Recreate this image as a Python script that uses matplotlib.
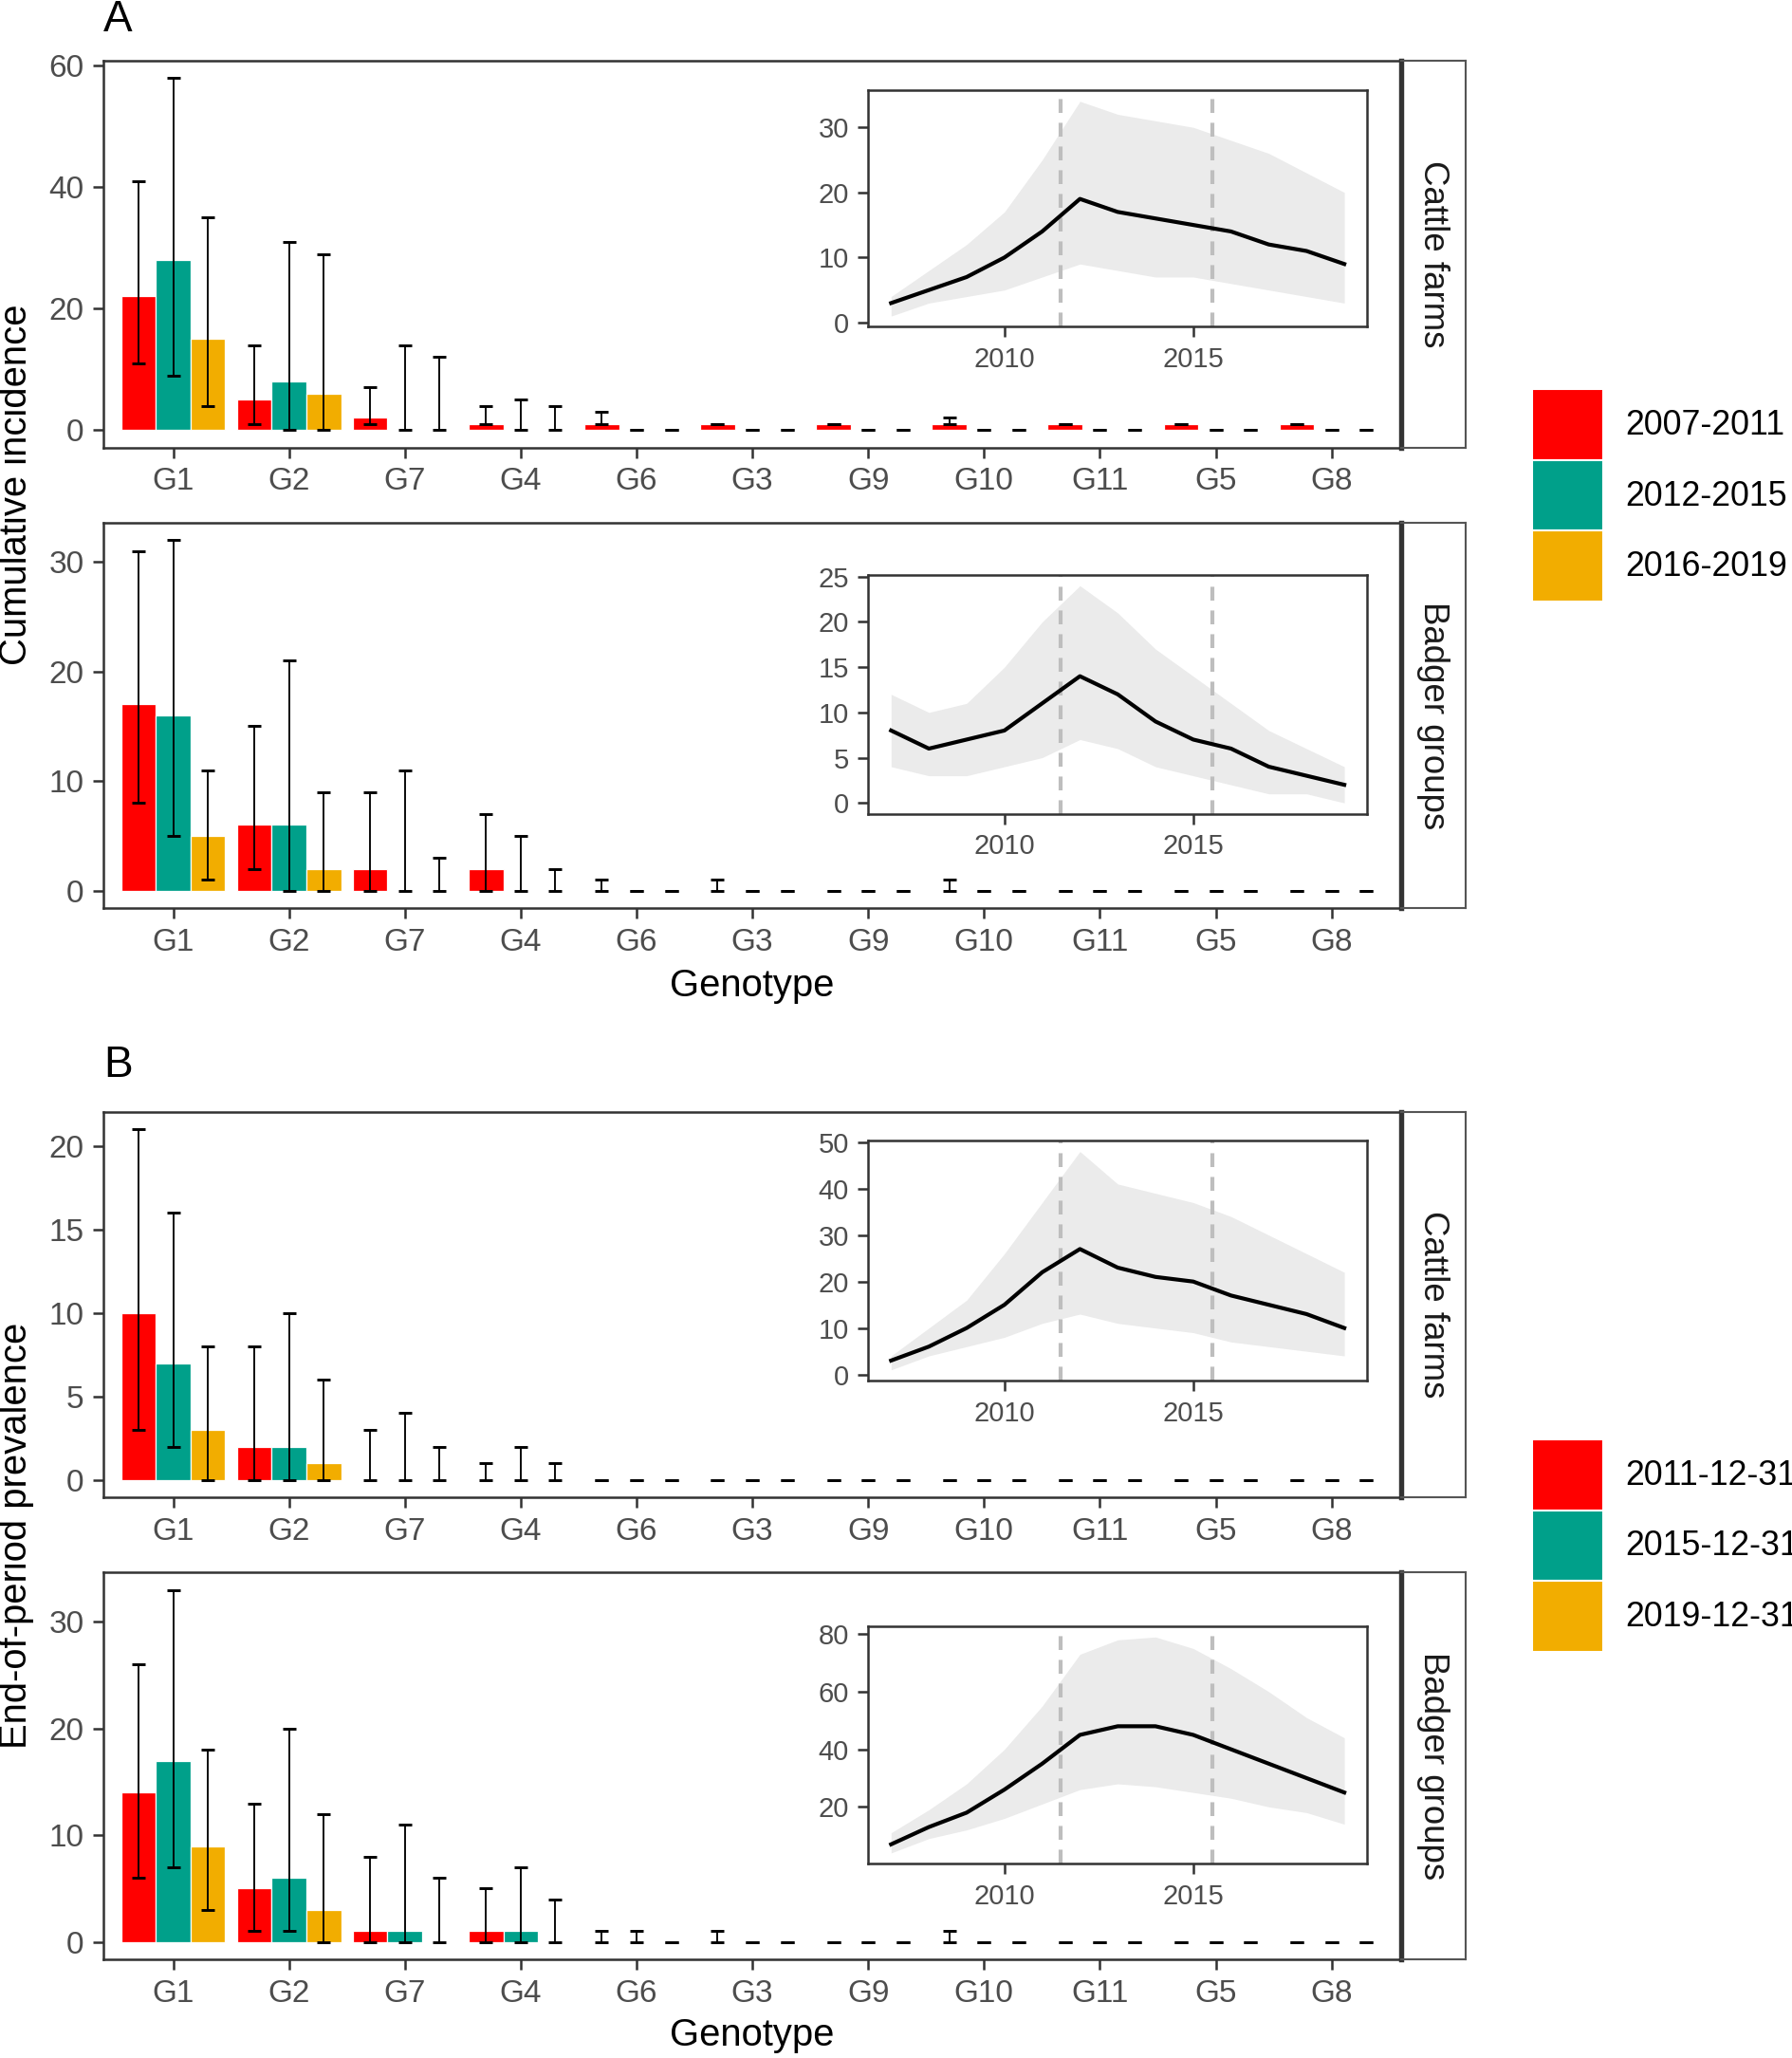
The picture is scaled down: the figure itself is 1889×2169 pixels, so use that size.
import matplotlib
matplotlib.use('Agg')
import matplotlib.pyplot as plt
import numpy as np
from matplotlib.patches import Patch
from matplotlib.ticker import MultipleLocator

plt.rcParams['font.family'] = ['Liberation Sans', 'DejaVu Sans']

# ---------------- data ----------------
genotypes = ["G1", "G2", "G7", "G4", "G6", "G3", "G9", "G10", "G11", "G5", "G8"]
periods_A = ["2007-2011", "2012-2015", "2016-2019"]
periods_B = ["2011-12-31", "2015-12-31", "2019-12-31"]
colors = ["#FF0000", "#00A08A", "#F2AD00"]

# Panel A - cumulative incidence, cattle farms (rows = periods)
incA_cattle_mid = [[22, 5, 2, 1, 1, 1, 1, 1, 1, 1, 1],
                   [28, 8, 0, 0, 0, 0, 0, 0, 0, 0, 0],
                   [15, 6, 0, 0, 0, 0, 0, 0, 0, 0, 0]]
incA_cattle_lo = [[11, 1, 1, 1, 1, 1, 1, 1, 1, 1, 1],
                  [9, 0, 0, 0, 0, 0, 0, 0, 0, 0, 0],
                  [4, 0, 0, 0, 0, 0, 0, 0, 0, 0, 0]]
incA_cattle_hi = [[41, 14, 7, 4, 3, 1, 1, 2, 1, 1, 1],
                  [58, 31, 14, 5, 0, 0, 0, 0, 0, 0, 0],
                  [35, 29, 12, 4, 0, 0, 0, 0, 0, 0, 0]]

# Panel A - cumulative incidence, badger groups
incA_badger_mid = [[17, 6, 2, 2, 0, 0, 0, 0, 0, 0, 0],
                   [16, 6, 0, 0, 0, 0, 0, 0, 0, 0, 0],
                   [5, 2, 0, 0, 0, 0, 0, 0, 0, 0, 0]]
incA_badger_lo = [[8, 2, 0, 0, 0, 0, 0, 0, 0, 0, 0],
                  [5, 0, 0, 0, 0, 0, 0, 0, 0, 0, 0],
                  [1, 0, 0, 0, 0, 0, 0, 0, 0, 0, 0]]
incA_badger_hi = [[31, 15, 9, 7, 1, 1, 0, 1, 0, 0, 0],
                  [32, 21, 11, 5, 0, 0, 0, 0, 0, 0, 0],
                  [11, 9, 3, 2, 0, 0, 0, 0, 0, 0, 0]]

# Panel B - end-of-period prevalence, cattle farms
prevB_cattle_mid = [[10, 2, 0, 0, 0, 0, 0, 0, 0, 0, 0],
                    [7, 2, 0, 0, 0, 0, 0, 0, 0, 0, 0],
                    [3, 1, 0, 0, 0, 0, 0, 0, 0, 0, 0]]
prevB_cattle_lo = [[3, 0, 0, 0, 0, 0, 0, 0, 0, 0, 0],
                   [2, 0, 0, 0, 0, 0, 0, 0, 0, 0, 0],
                   [0, 0, 0, 0, 0, 0, 0, 0, 0, 0, 0]]
prevB_cattle_hi = [[21, 8, 3, 1, 0, 0, 0, 0, 0, 0, 0],
                   [16, 10, 4, 2, 0, 0, 0, 0, 0, 0, 0],
                   [8, 6, 2, 1, 0, 0, 0, 0, 0, 0, 0]]

# Panel B - end-of-period prevalence, badger groups
prevB_badger_mid = [[14, 5, 1, 1, 0, 0, 0, 0, 0, 0, 0],
                    [17, 6, 1, 1, 0, 0, 0, 0, 0, 0, 0],
                    [9, 3, 0, 0, 0, 0, 0, 0, 0, 0, 0]]
prevB_badger_lo = [[6, 1, 0, 0, 0, 0, 0, 0, 0, 0, 0],
                   [7, 1, 0, 0, 0, 0, 0, 0, 0, 0, 0],
                   [3, 0, 0, 0, 0, 0, 0, 0, 0, 0, 0]]
prevB_badger_hi = [[26, 13, 8, 5, 1, 1, 0, 1, 0, 0, 0],
                   [33, 20, 11, 7, 1, 0, 0, 0, 0, 0, 0],
                   [18, 12, 6, 4, 0, 0, 0, 0, 0, 0, 0]]

# Inset time series
years = [2007, 2008, 2009, 2010, 2011, 2012, 2013, 2014, 2015, 2016, 2017, 2018, 2019]
period_breaks = [2011.5, 2015.5]

tsA_cattle_mid = [3, 5, 7, 10, 14, 19, 17, 16, 15, 14, 12, 11, 9]
tsA_cattle_lo = [1, 3, 4, 5, 7, 9, 8, 7, 7, 6, 5, 4, 3]
tsA_cattle_hi = [4, 8, 12, 17, 25, 34, 32, 31, 30, 28, 26, 23, 20]

tsA_badger_mid = [8, 6, 7, 8, 11, 14, 12, 9, 7, 6, 4, 3, 2]
tsA_badger_lo = [4, 3, 3, 4, 5, 7, 6, 4, 3, 2, 1, 1, 0]
tsA_badger_hi = [12, 10, 11, 15, 20, 24, 21, 17, 14, 11, 8, 6, 4]

tsB_cattle_mid = [3, 6, 10, 15, 22, 27, 23, 21, 20, 17, 15, 13, 10]
tsB_cattle_lo = [1, 4, 6, 8, 11, 13, 11, 10, 9, 7, 6, 5, 4]
tsB_cattle_hi = [4, 10, 16, 26, 37, 48, 41, 39, 37, 34, 30, 26, 22]

tsB_badger_mid = [7, 13, 18, 26, 35, 45, 48, 48, 45, 40, 35, 30, 25]
tsB_badger_lo = [4, 9, 12, 16, 21, 26, 28, 27, 25, 23, 20, 18, 14]
tsB_badger_hi = [11, 19, 28, 40, 55, 73, 78, 79, 75, 68, 60, 51, 44]

# ---------------- figure ----------------
W, H = 1889, 2169
DPI = 300
fig = plt.figure(figsize=(W / DPI, H / DPI), dpi=DPI)
fig.patch.set_facecolor('white')

RW, RH = 1366.0, 1568.0  # reference layout units


def frac_box(x0, x1, top, bottom):
    return [x0 / RW, 1 - bottom / RH, (x1 - x0) / RW, (bottom - top) / RH]


TICK_COL = '#4D4D4D'
LINE_COL = '#333333'


def style_axes(ax, labelsize):
    for s in ax.spines.values():
        s.set_color(LINE_COL)
        s.set_linewidth(0.6)
    ax.tick_params(direction='out', length=2.75, width=0.6, color=LINE_COL,
                   labelcolor=TICK_COL, labelsize=labelsize, pad=2.2)


def bar_panel(ax, mid, lo, hi, ystep):
    x = np.arange(len(genotypes))
    w = 0.3
    for i in range(3):
        xi = x + (i - 1) * w
        m = np.array(mid[i], dtype=float)
        l = np.array(lo[i], dtype=float)
        h = np.array(hi[i], dtype=float)
        ax.bar(xi, m, width=w, color=colors[i], edgecolor='white',
               linewidth=0.3, zorder=2)
        ax.errorbar(xi, m, yerr=[m - l, h - m], fmt='none', ecolor='black',
                    elinewidth=0.45, capsize=1.6, capthick=0.7, zorder=3)
    ymax = max(max(r) for r in hi)
    ax.set_ylim(-0.05 * ymax, ymax * 1.05)
    ax.set_xlim(-0.6, len(genotypes) - 0.4)
    ax.set_xticks(x)
    ax.set_xticklabels(genotypes)
    ax.yaxis.set_major_locator(MultipleLocator(ystep))
    style_axes(ax, 8)


def inset_panel(box, mid, lo, hi, ystep):
    ax = fig.add_axes(box)
    ax.fill_between(years, lo, hi, color='#EBEBEB', linewidth=0, zorder=1)
    for b in period_breaks:
        ax.axvline(b, color='#BEBEBE', linewidth=1.0, dashes=(3.5, 2.5), zorder=2)
    ax.plot(years, mid, color='black', linewidth=1.0, zorder=3)
    allv = list(lo) + list(hi) + list(mid)
    lo_v, hi_v = min(allv), max(allv)
    r = hi_v - lo_v
    ax.set_ylim(lo_v - 0.05 * r, hi_v + 0.05 * r)
    ax.set_xlim(years[0] - 0.05 * (years[-1] - years[0]),
                years[-1] + 0.05 * (years[-1] - years[0]))
    ax.xaxis.set_major_locator(MultipleLocator(5))
    ax.yaxis.set_major_locator(MultipleLocator(ystep))
    style_axes(ax, 7)
    return ax


def strip(top, bottom, label):
    sx = fig.add_axes(frac_box(1068, 1117, top, bottom))
    sx.set_xticks([])
    sx.set_yticks([])
    for k, s in sx.spines.items():
        s.set_color('#555555')
        s.set_linewidth(0.5)
    sx.spines['left'].set_linewidth(1.3)
    sx.spines['left'].set_color(LINE_COL)
    sx.text(0.5, 0.5, label, rotation=270, ha='center', va='center',
            fontsize=8.8, color='#1A1A1A', transform=sx.transAxes)


# panel rows: (top, bottom) in reference layout units
rows = [
    (46, 341, incA_cattle_mid, incA_cattle_lo, incA_cattle_hi, 20, "Cattle farms",
     (69, 249), tsA_cattle_mid, tsA_cattle_lo, tsA_cattle_hi, 10),
    (398, 692, incA_badger_mid, incA_badger_lo, incA_badger_hi, 10, "Badger groups",
     (438, 620), tsA_badger_mid, tsA_badger_lo, tsA_badger_hi, 5),
    (847, 1141, prevB_cattle_mid, prevB_cattle_lo, prevB_cattle_hi, 5, "Cattle farms",
     (869, 1052), tsB_cattle_mid, tsB_cattle_lo, tsB_cattle_hi, 10),
    (1198, 1493, prevB_badger_mid, prevB_badger_lo, prevB_badger_hi, 10, "Badger groups",
     (1239, 1420), tsB_badger_mid, tsB_badger_lo, tsB_badger_hi, 20),
]

for (top, bottom, mid, lo, hi, ystep, slabel, ibox, tmid, tlo, thi, tstep) in rows:
    ax = fig.add_axes(frac_box(79, 1068, top, bottom))
    bar_panel(ax, mid, lo, hi, ystep)
    strip(top, bottom, slabel)
    inset_panel(frac_box(662, 1042, ibox[0], ibox[1]), tmid, tlo, thi, tstep)

# titles and labels
fig.text(90 / RW, 1 - 15 / RH, "A", fontsize=11, ha='center', va='center')
fig.text(90 / RW, 1 - 812 / RH, "B", fontsize=11, ha='center', va='center')
fig.text(12 / RW, 1 - 369 / RH, "Cumulative incidence", rotation=90,
         ha='center', va='center', fontsize=9.6)
fig.text(12 / RW, 1 - 1170 / RH, "End-of-period prevalence", rotation=90,
         ha='center', va='center', fontsize=9.6)
fig.text(573.5 / RW, 1 - 751 / RH, "Genotype", ha='center', va='center', fontsize=9.6)
fig.text(573.5 / RW, 1 - 1551 / RH, "Genotype", ha='center', va='center', fontsize=9.6)

# legends
for labels, cy in [(periods_A, 377.5), (periods_B, 1177.5)]:
    handles = [Patch(facecolor=c, edgecolor='white', linewidth=0.5, label=l)
               for c, l in zip(colors, labels)]
    fig.legend(handles=handles, loc='center left',
               bbox_to_anchor=(1168 / RW, 1 - cy / RH), frameon=False,
               fontsize=8.6, handlelength=2.09, handleheight=2.82,
               labelspacing=0, handletextpad=0.66, borderpad=0,
               borderaxespad=0)

fig.savefig('out.png', dpi=DPI)
